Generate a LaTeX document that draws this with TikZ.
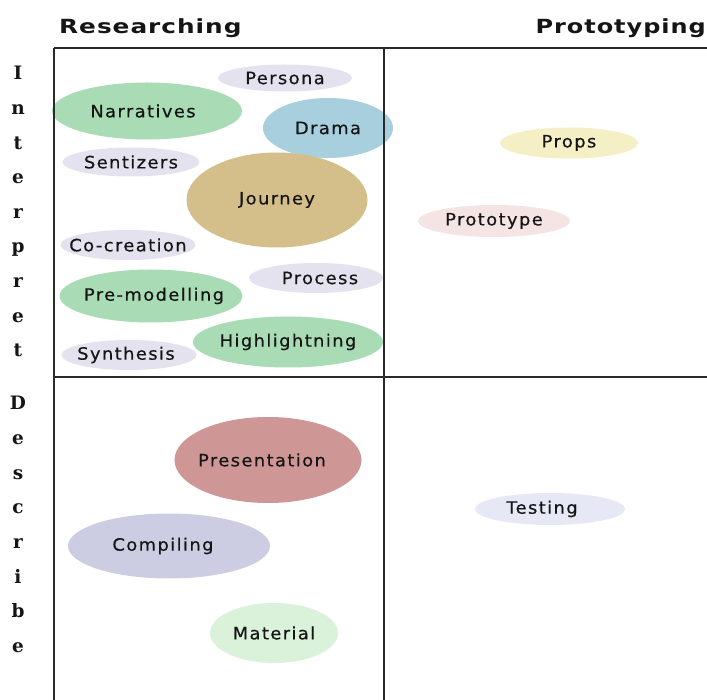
\documentclass[tikz,border=0pt]{standalone}
\usepackage{fontspec}
\usepackage{graphicx}
\setmainfont{DejaVu Sans}
\newfontfamily\blobfont[LetterSpace=8,FakeBold=0.5]{DejaVu Sans}
\newfontfamily\headfont[LetterSpace=4]{DejaVu Sans}
\newfontfamily\sidefont{DejaVu Serif}
\usetikzlibrary{shapes.geometric}
\definecolor{lav}{HTML}{E4E2EE}
\definecolor{grn}{HTML}{A9DCB5}
\definecolor{blu}{HTML}{A8CFDD}
\definecolor{tan}{HTML}{D4BF8A}
\definecolor{yel}{HTML}{F4EFC4}
\definecolor{pnk}{HTML}{F5E4E4}
\definecolor{ros}{HTML}{CF9696}
\definecolor{pur}{HTML}{CCCDE2}
\definecolor{mnt}{HTML}{D9F2D9}
\definecolor{tst}{HTML}{E6E8F6}
\definecolor{ink}{HTML}{151515}
\definecolor{gridc}{HTML}{2A2A2A}
\newcommand{\blobtext}[1]{\scalebox{1.05}[1]{#1}}
\tikzset{
  blob/.style={ellipse, inner sep=0pt},
  lbl/.style={inner sep=0pt, text=ink,
    font=\blobfont\fontsize{17}{17}\selectfont},
  head/.style={anchor=base west, inner sep=0pt, text=ink,
    font=\headfont\bfseries\fontsize{19.5}{19.5}\selectfont},
  side/.style={anchor=base, inner sep=0pt, text=ink,
    font=\sidefont\bfseries\fontsize{18.5}{18.5}\selectfont},
  gridline/.style={draw=gridc, line width=1.6pt}
}
\begin{document}
\begin{tikzpicture}[x=1pt, y=-1pt]
\useasboundingbox (0,0) rectangle (707,700);
\fill[white] (0,0) rectangle (707,700);
% ellipses, upper left
\node[blob, fill=lav, minimum width=134pt, minimum height=27pt, label={[lbl]center:\blobtext{Persona}}] (persona) at (285,78) {};
\node[blob, fill=grn, minimum width=190pt, minimum height=57pt, label={[lbl, xshift=-4pt]center:\blobtext{Narratives}}] (narratives) at (147,111) {};
\node[blob, fill=blu, minimum width=130pt, minimum height=60pt, label={[lbl]center:\blobtext{Drama}}] (drama) at (328,128) {};
\node[blob, fill=lav, minimum width=137pt, minimum height=29pt, label={[lbl]center:\blobtext{Sentizers}}] (sentizers) at (131,162) {};
\node[blob, fill=tan, minimum width=181pt, minimum height=95pt, label={[lbl]center:\blobtext{Journey}}] (journey) at (277,200) {};
\node[blob, fill=lav, minimum width=135pt, minimum height=30pt, label={[lbl]center:\blobtext{Co-creation}}] (cocreation) at (128,245) {};
\node[blob, fill=lav, minimum width=134pt, minimum height=30pt, label={[lbl, xshift=4pt]center:\blobtext{Process}}] (process) at (316,278) {};
\node[blob, fill=grn, minimum width=183pt, minimum height=53pt, label={[lbl, xshift=3pt]center:\blobtext{Pre-modelling}}] (premodelling) at (151,296) {};
\node[blob, fill=lav, minimum width=135pt, minimum height=30pt, label={[lbl, xshift=-3pt]center:\blobtext{Synthesis}}] (synthesis) at (129,355) {};
\node[blob, fill=grn, minimum width=190pt, minimum height=51pt, label={[lbl]center:\blobtext{Highlightning}}] (highlightning) at (288,342) {};
% upper right
\node[blob, fill=yel, minimum width=138pt, minimum height=31pt, label={[lbl]center:\blobtext{Props}}] (props) at (569,143) {};
\node[blob, fill=pnk, minimum width=152pt, minimum height=32pt, label={[lbl]center:\blobtext{Prototype}}] (prototype) at (494,221) {};
% lower left
\node[blob, fill=ros, minimum width=187pt, minimum height=86pt, label={[lbl, xshift=-6pt]center:\blobtext{Presentation}}] (presentation) at (268,460) {};
\node[blob, fill=pur, minimum width=202pt, minimum height=65pt, label={[lbl, xshift=-6pt]center:\blobtext{Compiling}}] (compiling) at (169,546) {};
\node[blob, fill=mnt, minimum width=128pt, minimum height=60pt, label={[lbl]center:\blobtext{Material}}] (material) at (274,633) {};
% lower right
\node[blob, fill=tst, minimum width=150pt, minimum height=32pt, label={[lbl, xshift=-8pt]center:\blobtext{Testing}}] (testing) at (550,509) {};
% grid
\draw[gridline] (54,48) -- (707,48);
\draw[gridline] (54,377) -- (707,377);
\draw[gridline] (54,48) -- (54,700);
\draw[gridline] (384,48) -- (384,700);
% headers
\node[head] (researching) at (59,34) {\scalebox{1.27}[1]{Researching}};
\node[head, anchor=base east] (prototyping) at (706,34) {\scalebox{1.23}[1]{Prototyping}};
% side letters
\foreach \l [count=\i from 0] in {I,n,t,e,r,p,r,e,t}
  \node[side] (int\i) at (18,{80+34.6*\i}) {\l};
\foreach \l [count=\i from 0] in {D,e,s,c,r,i,b,e}
  \node[side] (des\i) at (18,{410+34.6*\i}) {\l};
\end{tikzpicture}
\end{document}
